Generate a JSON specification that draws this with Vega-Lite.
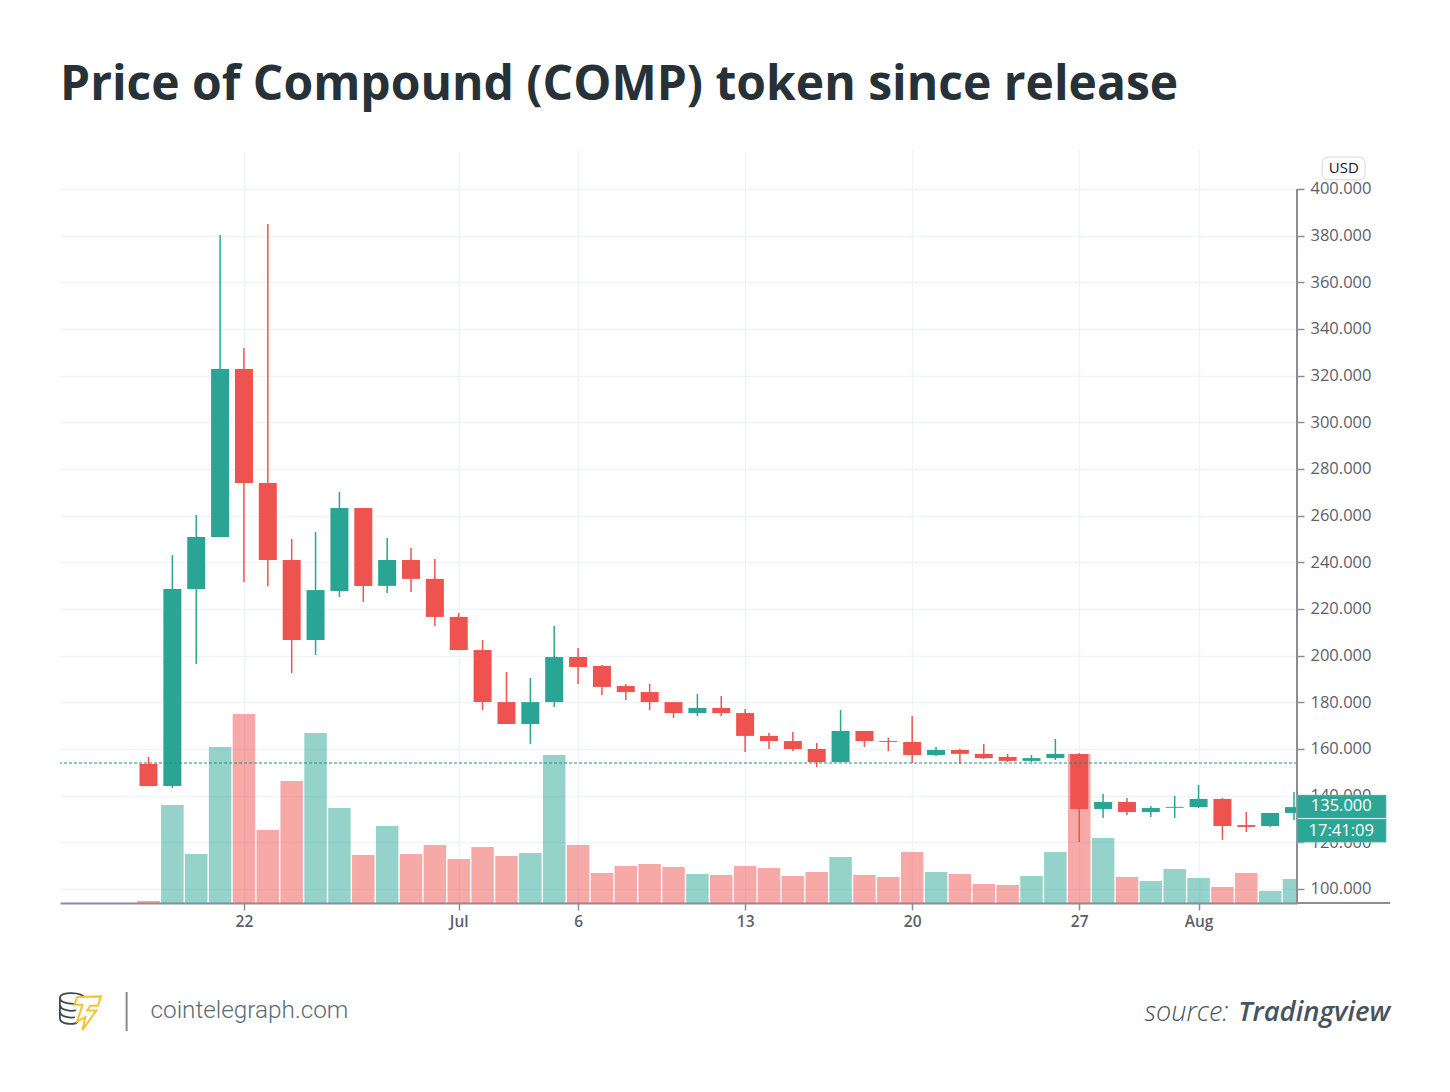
{
  "$schema": "https://vega.github.io/schema/vega-lite/v6.json",
  "width": 1237,
  "height": 753,
  "autosize": "none",
  "padding": {"left": 60, "top": 150, "right": 153, "bottom": 189},
  "background": "white",
  "title": {
    "text": "Price of Compound (COMP) token since release",
    "anchor": "start",
    "frame": "group",
    "font": "Open Sans",
    "fontSize": 48,
    "fontWeight": 700,
    "color": "#263238",
    "offset": 40
  },
  "datasets": {
    "candles": [
      {"date": "2020-06-18", "open": 153.6, "close": 144.1, "high": 156.6, "low": 144.1, "volume": 2, "direction": "down"},
      {"date": "2020-06-19", "open": 144.1, "close": 228.6, "high": 243.1, "low": 143.3, "volume": 98, "direction": "up"},
      {"date": "2020-06-20", "open": 228.6, "close": 250.9, "high": 260.3, "low": 196.4, "volume": 49, "direction": "up"},
      {"date": "2020-06-21", "open": 250.9, "close": 322.9, "high": 380.3, "low": 250.9, "volume": 156, "direction": "up"},
      {"date": "2020-06-22", "open": 322.9, "close": 274, "high": 331.9, "low": 231.6, "volume": 189, "direction": "down"},
      {"date": "2020-06-23", "open": 274, "close": 241, "high": 385, "low": 229.9, "volume": 73, "direction": "down"},
      {"date": "2020-06-24", "open": 241, "close": 206.7, "high": 250, "low": 192.6, "volume": 122, "direction": "down"},
      {"date": "2020-06-25", "open": 206.7, "close": 228.1, "high": 253, "low": 200.3, "volume": 170, "direction": "up"},
      {"date": "2020-06-26", "open": 227.7, "close": 263.3, "high": 270.1, "low": 225.1, "volume": 95, "direction": "up"},
      {"date": "2020-06-27", "open": 263.3, "close": 229.9, "high": 263.3, "low": 223, "volume": 48, "direction": "down"},
      {"date": "2020-06-28", "open": 229.9, "close": 241, "high": 250.4, "low": 226.9, "volume": 77, "direction": "up"},
      {"date": "2020-06-29", "open": 241, "close": 232.9, "high": 246.1, "low": 227.3, "volume": 49, "direction": "down"},
      {"date": "2020-06-30", "open": 232.9, "close": 216.6, "high": 241.4, "low": 212.7, "volume": 58, "direction": "down"},
      {"date": "2020-07-01", "open": 216.6, "close": 202.4, "high": 218.3, "low": 202.4, "volume": 44, "direction": "down"},
      {"date": "2020-07-02", "open": 202.4, "close": 180.1, "high": 206.7, "low": 176.7, "volume": 56, "direction": "down"},
      {"date": "2020-07-03", "open": 180.1, "close": 170.7, "high": 193, "low": 170.7, "volume": 47, "direction": "down"},
      {"date": "2020-07-04", "open": 170.7, "close": 180.1, "high": 190.4, "low": 162.1, "volume": 50, "direction": "up"},
      {"date": "2020-07-05", "open": 180.1, "close": 199.4, "high": 212.7, "low": 178, "volume": 148, "direction": "up"},
      {"date": "2020-07-06", "open": 199.4, "close": 195.1, "high": 203.3, "low": 187.9, "volume": 58, "direction": "down"},
      {"date": "2020-07-07", "open": 195.6, "close": 186.6, "high": 196, "low": 183.1, "volume": 30, "direction": "down"},
      {"date": "2020-07-08", "open": 187, "close": 184.4, "high": 187.9, "low": 181, "volume": 37, "direction": "down"},
      {"date": "2020-07-09", "open": 184.4, "close": 180.1, "high": 187.9, "low": 176.7, "volume": 39, "direction": "down"},
      {"date": "2020-07-10", "open": 180.1, "close": 175.4, "high": 180.1, "low": 173.3, "volume": 36, "direction": "down"},
      {"date": "2020-07-11", "open": 175.4, "close": 177.6, "high": 183.6, "low": 174.1, "volume": 29, "direction": "up"},
      {"date": "2020-07-12", "open": 177.6, "close": 175.4, "high": 182.7, "low": 174.1, "volume": 28, "direction": "down"},
      {"date": "2020-07-13", "open": 175.4, "close": 165.6, "high": 177.1, "low": 158.7, "volume": 37, "direction": "down"},
      {"date": "2020-07-14", "open": 165.6, "close": 163.4, "high": 166.9, "low": 160, "volume": 35, "direction": "down"},
      {"date": "2020-07-15", "open": 163.4, "close": 160, "high": 167.3, "low": 159.1, "volume": 27, "direction": "down"},
      {"date": "2020-07-16", "open": 160, "close": 154.4, "high": 162.6, "low": 152.3, "volume": 31, "direction": "down"},
      {"date": "2020-07-17", "open": 154.4, "close": 167.7, "high": 176.7, "low": 154.4, "volume": 46, "direction": "up"},
      {"date": "2020-07-18", "open": 167.7, "close": 163.4, "high": 167.7, "low": 160.9, "volume": 28, "direction": "down"},
      {"date": "2020-07-19", "open": 163.4, "close": 163, "high": 164.7, "low": 159.1, "volume": 26, "direction": "down"},
      {"date": "2020-07-20", "open": 163, "close": 157.4, "high": 174.1, "low": 154, "volume": 51, "direction": "down"},
      {"date": "2020-07-21", "open": 157.4, "close": 159.6, "high": 160.9, "low": 157, "volume": 31, "direction": "up"},
      {"date": "2020-07-22", "open": 159.6, "close": 157.9, "high": 160, "low": 153.6, "volume": 29, "direction": "down"},
      {"date": "2020-07-23", "open": 157.9, "close": 156.1, "high": 162.1, "low": 155.7, "volume": 19, "direction": "down"},
      {"date": "2020-07-24", "open": 156.6, "close": 154.9, "high": 157.9, "low": 154.4, "volume": 18, "direction": "down"},
      {"date": "2020-07-25", "open": 154.9, "close": 156.1, "high": 157.4, "low": 154.4, "volume": 27, "direction": "up"},
      {"date": "2020-07-26", "open": 156.1, "close": 157.9, "high": 164.3, "low": 155.3, "volume": 51, "direction": "up"},
      {"date": "2020-07-27", "open": 157.9, "close": 134.3, "high": 158.3, "low": 120.1, "volume": 149, "direction": "down"},
      {"date": "2020-07-28", "open": 134.3, "close": 137.3, "high": 140.7, "low": 130.4, "volume": 65, "direction": "up"},
      {"date": "2020-07-29", "open": 137.3, "close": 133, "high": 139, "low": 131.7, "volume": 26, "direction": "down"},
      {"date": "2020-07-30", "open": 133, "close": 134.7, "high": 135.6, "low": 130.9, "volume": 22, "direction": "up"},
      {"date": "2020-07-31", "open": 134.8, "close": 135.2, "high": 139.9, "low": 130.4, "volume": 34, "direction": "up"},
      {"date": "2020-08-01", "open": 135.1, "close": 138.6, "high": 144.6, "low": 134.7, "volume": 25, "direction": "up"},
      {"date": "2020-08-02", "open": 138.6, "close": 127, "high": 139, "low": 121, "volume": 16, "direction": "down"},
      {"date": "2020-08-03", "open": 127.4, "close": 126.6, "high": 133, "low": 124.4, "volume": 30, "direction": "down"},
      {"date": "2020-08-04", "open": 127, "close": 132.6, "high": 132.6, "low": 126.6, "volume": 12, "direction": "up"},
      {"date": "2020-08-05", "open": 132.6, "close": 135.1, "high": 141.6, "low": 129.6, "volume": 24, "direction": "up"}
    ],
    "tags": [
      {"label": "135.000", "start": "2020-08-05T03:00:00Z", "end": "2020-08-08T20:40:00Z", "center": "2020-08-06T23:30:00Z", "top": 140.3, "bottom": 130.4, "mid": 135.4},
      {"label": "17:41:09", "start": "2020-08-05T03:00:00Z", "end": "2020-08-08T20:40:00Z", "center": "2020-08-06T23:30:00Z", "top": 130, "bottom": 120, "mid": 125}
    ],
    "single": [{}]
  },
  "layer": [
    {
      "data": {"name": "candles"},
      "mark": {"type": "bar", "size": 22.5, "opacity": 0.5, "clip": true},
      "encoding": {
        "x": {
          "field": "date",
          "type": "temporal",
          "title": null,
          "scale": {"type": "utc", "domain": ["2020-06-14T07:00:00Z", "2020-08-05T03:00:00Z"]},
          "axis": {
            "values": ["2020-06-22T00:00:00Z", "2020-07-01T00:00:00Z", "2020-07-06T00:00:00Z", "2020-07-13T00:00:00Z", "2020-07-20T00:00:00Z", "2020-07-27T00:00:00Z", "2020-08-01T00:00:00Z"],
            "labelExpr": "utcdate(datum.value) == 1 ? utcFormat(datum.value, '%b') : utcFormat(datum.value, '%-d')",
            "grid": true,
            "gridColor": "#f0f3fa",
            "gridWidth": 1.5,
            "domainColor": "#8b8e99",
            "domainWidth": 2,
            "tickColor": "#8b8e99",
            "tickSize": 7,
            "tickWidth": 1.5,
            "labelFont": "Open Sans",
            "labelFontSize": 15.5,
            "labelFontWeight": 600,
            "labelColor": "#5d606b",
            "labelPadding": 4,
            "labelFlush": false
          }
        },
        "y": {"field": "volume", "type": "quantitative", "title": null, "scale": {"domain": [0, 753]}, "axis": null},
        "color": {
          "field": "direction",
          "type": "nominal",
          "scale": {"domain": ["up", "down"], "range": ["#2aa595", "#ef5350"]},
          "legend": null
        }
      }
    },
    {
      "layer": [
        {
          "data": {"name": "candles"},
          "mark": {"type": "rule", "strokeWidth": 1.5},
          "encoding": {
            "x": {"field": "date", "type": "temporal", "title": null, "scale": {"type": "utc", "domain": ["2020-06-14T07:00:00Z", "2020-08-05T03:00:00Z"]}},
            "y": {
              "field": "low",
              "type": "quantitative",
              "title": null,
              "scale": {"domain": [94, 416.7]},
              "axis": {
                "orient": "right",
                "values": [100, 120, 140, 160, 180, 200, 220, 240, 260, 280, 300, 320, 340, 360, 380, 400],
                "format": ".3f",
                "grid": true,
                "gridColor": "#f0f3fa",
                "gridWidth": 1.5,
                "domain": false,
                "tickColor": "#8b8e99",
                "tickSize": 7,
                "tickWidth": 1.5,
                "labelFont": "Open Sans",
                "labelFontSize": 16.5,
                "labelColor": "#5d606b",
                "labelPadding": 6
              }
            },
            "y2": {"field": "high"},
            "color": {"field": "direction", "type": "nominal", "legend": null}
          }
        },
        {
          "data": {"name": "candles"},
          "mark": {"type": "bar", "size": 18},
          "encoding": {
            "x": {"field": "date", "type": "temporal", "title": null, "scale": {"type": "utc", "domain": ["2020-06-14T07:00:00Z", "2020-08-05T03:00:00Z"]}},
            "y": {"field": "open", "type": "quantitative", "title": null, "scale": {"domain": [94, 416.7]}},
            "y2": {"field": "close"},
            "color": {"field": "direction", "type": "nominal", "legend": null}
          }
        },
        {
          "data": {"name": "single"},
          "mark": {"type": "rule", "color": "#1f8f84", "strokeWidth": 1.2, "strokeDash": [3, 2]},
          "encoding": {"y": {"datum": 154, "type": "quantitative", "title": null, "scale": {"domain": [94, 416.7]}}}
        },
        {
          "data": {"name": "single"},
          "mark": {"type": "rule", "color": "#8b8e99", "strokeWidth": 2},
          "encoding": {
            "x": {"datum": {"year": 2020, "month": 8, "date": 5, "hours": 3, "utc": true}, "type": "temporal", "title": null, "scale": {"type": "utc", "domain": ["2020-06-14T07:00:00Z", "2020-08-05T03:00:00Z"]}},
            "x2": {"datum": {"year": 2020, "month": 8, "date": 9, "hours": 0, "minutes": 45, "utc": true}},
            "y": {"datum": 94, "type": "quantitative", "title": null, "scale": {"domain": [94, 416.7]}}
          }
        },
        {
          "data": {"name": "single"},
          "mark": {"type": "rule", "color": "#8b8e99", "strokeWidth": 2},
          "encoding": {
            "x": {"datum": {"year": 2020, "month": 8, "date": 5, "hours": 3, "utc": true}, "type": "temporal", "title": null, "scale": {"type": "utc", "domain": ["2020-06-14T07:00:00Z", "2020-08-05T03:00:00Z"]}},
            "y": {"datum": 94, "type": "quantitative", "title": null, "scale": {"domain": [94, 416.7]}},
            "y2": {"datum": 400}
          }
        },
        {
          "data": {"name": "tags"},
          "mark": {"type": "rect", "color": "#2da696", "stroke": "#8fd0c8", "strokeWidth": 0.5},
          "encoding": {
            "x": {"field": "start", "type": "temporal", "title": null, "scale": {"type": "utc", "domain": ["2020-06-14T07:00:00Z", "2020-08-05T03:00:00Z"]}},
            "x2": {"field": "end"},
            "y": {"field": "top", "type": "quantitative", "title": null, "scale": {"domain": [94, 416.7]}},
            "y2": {"field": "bottom"}
          }
        },
        {
          "data": {"name": "tags"},
          "mark": {"type": "text", "color": "white", "font": "Open Sans", "fontSize": 16.5},
          "encoding": {
            "x": {"field": "center", "type": "temporal", "title": null, "scale": {"type": "utc", "domain": ["2020-06-14T07:00:00Z", "2020-08-05T03:00:00Z"]}},
            "y": {"field": "mid", "type": "quantitative", "title": null, "scale": {"domain": [94, 416.7]}},
            "text": {"field": "label"}
          }
        },
        {
          "data": {"name": "single"},
          "mark": {"type": "rect", "color": "white", "stroke": "#e0e3eb", "strokeWidth": 1.5, "cornerRadius": 6},
          "encoding": {
            "x": {"datum": {"year": 2020, "month": 8, "date": 6, "hours": 4, "minutes": 20, "utc": true}, "type": "temporal", "title": null, "scale": {"type": "utc", "domain": ["2020-06-14T07:00:00Z", "2020-08-05T03:00:00Z"]}},
            "x2": {"datum": {"year": 2020, "month": 8, "date": 7, "hours": 23, "minutes": 30, "utc": true}},
            "y": {"datum": 413.7, "type": "quantitative", "title": null, "scale": {"domain": [94, 416.7]}},
            "y2": {"datum": 403.9}
          }
        },
        {
          "data": {"name": "single"},
          "mark": {"type": "text", "color": "#131722", "font": "Open Sans", "fontSize": 15},
          "encoding": {
            "x": {"datum": {"year": 2020, "month": 8, "date": 7, "hours": 2, "utc": true}, "type": "temporal", "title": null, "scale": {"type": "utc", "domain": ["2020-06-14T07:00:00Z", "2020-08-05T03:00:00Z"]}},
            "y": {"datum": 408.8, "type": "quantitative", "title": null, "scale": {"domain": [94, 416.7]}},
            "text": {"value": "USD"}
          }
        },
        {
          "data": {"name": "single"},
          "mark": {"type": "point", "filled": false, "size": 1296, "opacity": 1, "stroke": "#3b4a52", "strokeWidth": 1.8,
            "shape": "M.62 -.55 C.45 -.9 -.78 -.95 -.78 -.55 C-.78 -.2 .1 -.2 .3 -.28 M-.78 -.55 L-.78 .55 C-.78 .95 .1 .95 .2 .75 M-.78 -.2 C-.78 .15 -.1 .2 .1 .12 M-.78 .18 C-.78 .52 -.1 .58 .05 .5"},
          "encoding": {
            "x": {"datum": {"year": 2020, "month": 6, "date": 14, "hours": 21, "utc": true}, "type": "temporal", "title": null, "scale": {"type": "utc", "domain": ["2020-06-14T07:00:00Z", "2020-08-05T03:00:00Z"]}},
            "y": {"datum": 49, "type": "quantitative", "title": null, "scale": {"domain": [94, 416.7]}}
          }
        },
        {
          "data": {"name": "single"},
          "mark": {"type": "point", "filled": true, "fill": "white", "size": 1296, "opacity": 1, "stroke": "#f5c32c", "strokeWidth": 2,
            "shape": "M-.61 -.89 L.72 -.93 L.54 -.41 L.13 -.41 L-.04 -.15 L.46 -.15 L-.31 .93 L-.15 .22 L-.61 .46 L-.31 -.46 L-.76 -.46 Z"},
          "encoding": {
            "x": {"datum": {"year": 2020, "month": 6, "date": 15, "hours": 11, "minutes": 16, "utc": true}, "type": "temporal", "title": null, "scale": {"type": "utc", "domain": ["2020-06-14T07:00:00Z", "2020-08-05T03:00:00Z"]}},
            "y": {"datum": 46.8, "type": "quantitative", "title": null, "scale": {"domain": [94, 416.7]}}
          }
        },
        {
          "data": {"name": "single"},
          "mark": {"type": "rule", "color": "#8a8a8a", "strokeWidth": 2},
          "encoding": {
            "x": {"datum": {"year": 2020, "month": 6, "date": 17, "hours": 2, "utc": true}, "type": "temporal", "title": null, "scale": {"type": "utc", "domain": ["2020-06-14T07:00:00Z", "2020-08-05T03:00:00Z"]}},
            "y": {"datum": 55.9, "type": "quantitative", "title": null, "scale": {"domain": [94, 416.7]}},
            "y2": {"datum": 39.1}
          }
        },
        {
          "data": {"name": "single"},
          "mark": {"type": "text", "align": "left", "color": "#5b6b75", "font": "Roboto", "fontWeight": 300, "fontSize": 24.3},
          "encoding": {
            "x": {"datum": {"year": 2020, "month": 6, "date": 18, "hours": 2, "utc": true}, "type": "temporal", "title": null, "scale": {"type": "utc", "domain": ["2020-06-14T07:00:00Z", "2020-08-05T03:00:00Z"]}},
            "y": {"datum": 47.7, "type": "quantitative", "title": null, "scale": {"domain": [94, 416.7]}},
            "text": {"value": "cointelegraph.com"}
          }
        },
        {
          "data": {"name": "single"},
          "mark": {"type": "text", "align": "right", "color": "#46545e", "font": "Open Sans", "fontWeight": 300, "fontStyle": "italic", "fontSize": 27},
          "encoding": {
            "x": {"datum": {"year": 2020, "month": 8, "date": 2, "hours": 6, "utc": true}, "type": "temporal", "title": null, "scale": {"type": "utc", "domain": ["2020-06-14T07:00:00Z", "2020-08-05T03:00:00Z"]}},
            "y": {"datum": 46.9, "type": "quantitative", "title": null, "scale": {"domain": [94, 416.7]}},
            "text": {"value": "source:"}
          }
        },
        {
          "data": {"name": "single"},
          "mark": {"type": "text", "align": "right", "color": "#46545e", "font": "Open Sans", "fontWeight": 600, "fontStyle": "italic", "fontSize": 27.5},
          "encoding": {
            "x": {"datum": {"year": 2020, "month": 8, "date": 9, "hours": 0, "minutes": 45, "utc": true}, "type": "temporal", "title": null, "scale": {"type": "utc", "domain": ["2020-06-14T07:00:00Z", "2020-08-05T03:00:00Z"]}},
            "y": {"datum": 46.9, "type": "quantitative", "title": null, "scale": {"domain": [94, 416.7]}},
            "text": {"value": "Tradingview"}
          }
        }
      ]
    }
  ],
  "resolve": {"scale": {"y": "independent"}},
  "config": {"view": {"stroke": null}, "scale": {"continuousPadding": 0}}
}
